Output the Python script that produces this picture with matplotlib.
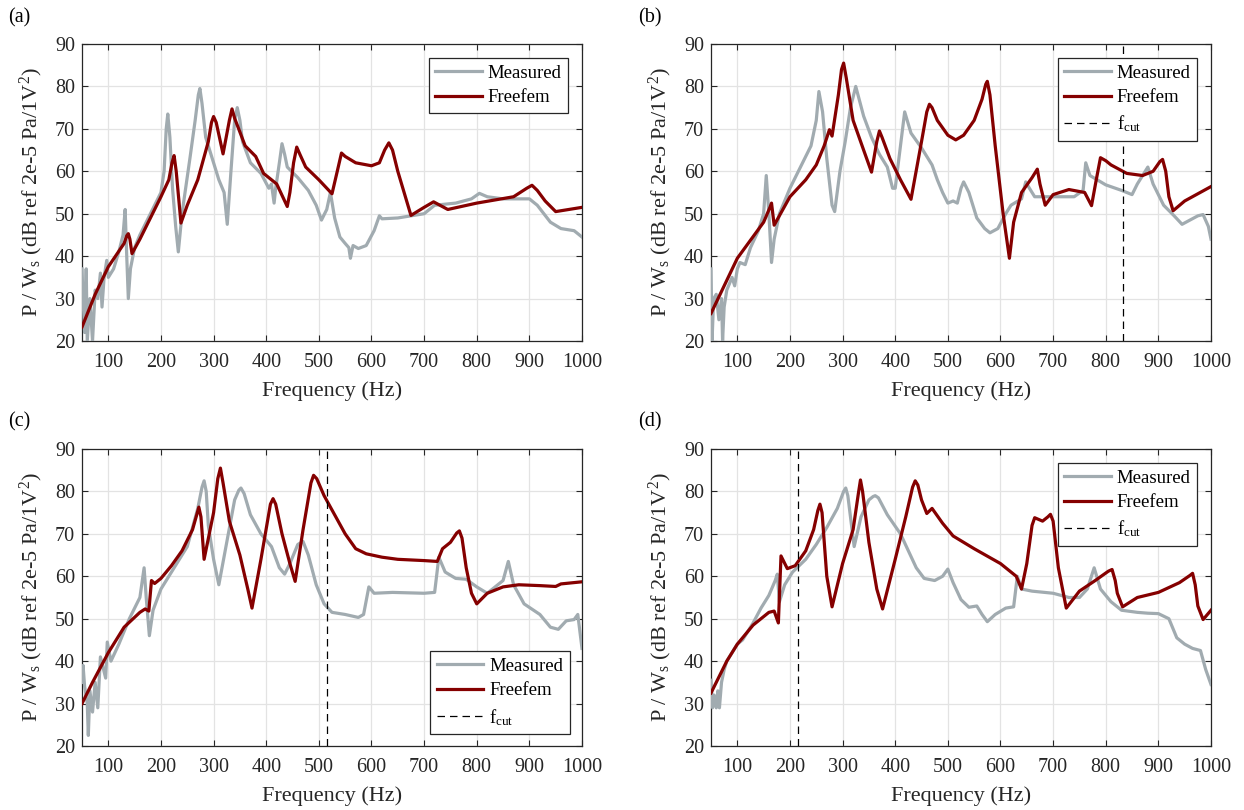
import matplotlib
matplotlib.use("Agg")
import matplotlib.pyplot as plt

plt.rcParams['font.family'] = ['Liberation Serif', 'DejaVu Serif']
plt.rcParams['mathtext.fontset'] = 'custom'
plt.rcParams['mathtext.rm'] = 'Liberation Serif'
plt.rcParams['mathtext.it'] = 'Liberation Serif:italic'

GRAY = '#a1abb0'
RED = '#850000'
INK = '#262626'

# ---- panel (a) ----
a_meas_f = [50, 52, 55, 58, 60, 65, 70, 75, 80, 85, 88, 92, 97, 100, 110, 120, 128, 132, 135, 138, 142,
            150, 160, 180, 200, 206, 210, 213, 217, 222, 228, 233, 240, 255, 265, 271, 274, 278, 285,
            300, 310, 320, 326, 333, 340, 345, 350, 355, 370, 390, 405, 410, 415, 418, 425, 430, 435,
            440, 460, 480, 495, 505, 515, 522, 530, 540, 550, 557, 560, 565, 575, 590, 605, 615, 620,
            650, 700, 720, 760, 790, 805, 820, 850, 880, 900, 915, 940, 960, 985, 1000]
a_meas_db = [37, 30, 22, 37, 20, 30, 20, 32, 30, 36, 28, 35, 39, 35, 37, 41, 45, 51, 40, 30, 37,
             42, 45, 50, 55, 60, 70, 73.5, 68, 56, 47, 41, 50, 63, 72, 78, 79.5, 76, 68,
             62, 58, 55, 47.5, 60, 72, 75, 72, 67, 62, 59.5, 56, 57, 52.5, 56, 62, 66.5, 64,
             61, 58.5, 55.5, 52, 48.5, 51, 55, 49, 44.5, 43, 42, 39.5, 42.5, 41.8, 42.5, 46, 49.5, 48.8,
             49, 50, 52, 52.5, 53.5, 54.8, 54, 53.5, 53.5, 53.5, 52, 48, 46.5, 46, 44.5]
a_fem_f = [50, 75, 100, 130, 135, 138, 141, 145, 160, 200, 215, 221, 225, 229, 238, 250, 270, 290, 296,
           300, 305, 318, 330, 335, 340, 360, 380, 395, 420, 440, 445, 452, 458, 464, 475, 500, 525,
           535, 543, 550, 570, 600, 615, 625, 633, 640, 650, 675, 700, 718, 745, 800, 870, 895, 905,
           915, 930, 950, 1000]
a_fem_db = [23.3, 31, 37.5, 43, 44.8, 45.3, 44, 40.6, 44, 54, 58, 62, 63.7, 60, 47.8, 52, 58, 67, 71.5,
            72.9, 71.5, 64.1, 72, 74.7, 72.5, 66, 63.5, 59.5, 57, 51.7, 55, 62, 65.7, 64, 61, 58, 54.7,
            60, 64.3, 63.5, 62, 61.3, 62, 65, 66.7, 65, 60, 49.6, 51.5, 52.8, 51, 52.5, 54, 56, 56.7,
            55.5, 53, 50.5, 51.5]

# ---- panel (b) ----
b_meas_f = [50, 52, 55, 60, 65, 70, 72, 75, 80, 90, 95, 100, 105, 115, 125, 140, 150, 155, 160, 165,
            170, 180, 200, 220, 240, 250, 255, 262, 270, 280, 285, 295, 305, 315, 325, 340, 355, 370,
            385, 395, 400, 410, 418, 430, 450, 470, 480, 490, 500, 510, 518, 525, 530, 540, 555, 570,
            580, 595, 610, 620, 640, 648, 655, 665, 700, 740, 757, 762, 770, 800, 830, 850, 860, 875,
            880, 890, 910, 930, 945, 960, 975, 985, 995, 1000]
b_meas_db = [37, 20, 30, 31, 25, 30, 20, 28, 32, 35, 33, 37, 38.5, 38, 42, 46, 50, 59, 50, 38.5,
             44, 50, 56, 61, 66, 72, 78.8, 74, 63, 52, 50.5, 60, 67, 75, 80, 73, 68, 64,
             61, 56, 56, 66, 74, 69, 65.5, 61.5, 58, 55, 52.5, 53, 52.5, 56, 57.5, 55, 49, 46.5,
             45.5, 46.5, 50, 52, 53.5, 57.5, 56, 54, 54, 54, 55.5, 62, 59, 56.8, 55.5, 54.5, 57, 60,
             61, 57, 52, 49.5, 47.5, 48.5, 49.5, 49.8, 47, 44]
b_fem_f = [50, 100, 150, 162, 165, 170, 200, 230, 250, 265, 275, 280, 292, 298, 302, 307, 320, 340, 355,
           365, 370, 375, 390, 410, 430, 450, 460, 465, 470, 480, 500, 515, 530, 550, 565, 572, 575,
           580, 590, 605, 617, 625, 640, 660, 670, 675, 685, 700, 730, 760, 773, 782, 790, 800, 810,
           840, 870, 890, 903, 908, 914, 920, 928, 950, 1000]
b_fem_db = [26.5, 39.5, 48, 51.5, 52.5, 47.3, 54, 58, 61.5, 66, 69.8, 68.3, 78, 84, 85.5, 82, 72, 65, 59.8,
            67, 69.5, 68, 63, 58, 53.4, 67, 74, 75.8, 75, 72, 68.5, 67.4, 68.5, 72, 77, 80.5, 81.2,
            78, 66, 50, 39.5, 48, 55, 58.5, 60.5, 57, 52, 54.5, 55.7, 55, 51.9, 58, 63.2, 62.5, 61.5,
            59.5, 59, 60, 62.3, 62.8, 60, 54, 50.7, 53, 56.4]
b_fcut = 832

# ---- panel (c) ----
c_meas_f = [50, 52, 55, 60, 62, 65, 70, 75, 80, 85, 95, 98, 105, 120, 140, 160, 168, 172, 178, 185,
            200, 220, 250, 270, 278, 282, 286, 290, 300, 310, 325, 340, 348, 352, 358, 370, 390, 410,
            425, 435, 445, 460, 470, 480, 495, 510, 525, 550, 575, 585, 595, 605, 640, 700, 720, 728,
            740, 760, 780, 800, 820, 835, 850, 860, 870, 890, 920, 940, 955, 970, 985, 992, 1000]
c_meas_db = [35, 39, 34, 30, 22.5, 33, 28, 35, 29, 41, 36, 44.5, 40, 44, 50, 55, 62, 55, 46, 52,
             57, 61, 67, 76, 81, 82.5, 80, 72, 64, 58, 68, 78, 80.3, 80.8, 79.5, 74.5, 70, 67,
             62, 60.5, 63, 67.5, 68.2, 65, 58, 53.5, 51.5, 51, 50.3, 51, 57.5, 56, 56.2, 56, 56.2, 64.5,
             61, 59.5, 59.3, 57.5, 56, 57.5, 59, 63.5, 58, 53.5, 51, 48, 47.5, 49.5, 49.8, 51, 43]
c_fem_f = [50, 70, 100, 130, 160, 170, 177, 182, 188, 200, 220, 240, 260, 268, 272, 276, 282, 300, 308,
           313, 318, 330, 350, 365, 373, 390, 408, 413, 418, 430, 445, 455, 470, 485, 490, 496, 510,
           530, 550, 570, 590, 620, 650, 700, 725, 735, 750, 762, 767, 772, 780, 790, 800, 820, 850,
           880, 920, 950, 960, 1000]
c_fem_db = [30, 35, 42, 48, 51.5, 52.3, 51.8, 59, 58.3, 59.5, 62.5, 66, 71, 74.5, 76.3, 74, 64, 75, 83,
            85.5, 82, 73, 65, 57, 52.5, 64, 77, 78.3, 77, 70, 63, 58.8, 71, 82, 83.8, 83, 79,
            74.5, 70, 66.5, 65.3, 64.5, 64, 63.7, 63.5, 66.5, 68, 70.2, 70.7, 69, 62, 56, 53.5, 56, 57.5,
            58, 57.8, 57.6, 58.2, 58.7]
c_fcut = 515

# ---- panel (d) ----
d_meas_f = [50, 53, 56, 60, 63, 66, 70, 75, 80, 90, 100, 110, 130, 145, 160, 172, 176, 180, 190, 205,
            230, 250, 270, 290, 302, 306, 310, 315, 322, 335, 350, 358, 362, 368, 385, 410, 425, 440,
            455, 475, 490, 500, 510, 525, 540, 555, 565, 575, 590, 610, 625, 632, 640, 660, 700, 730,
            750, 765, 778, 790, 810, 830, 860, 880, 900, 920, 935, 950, 965, 980, 990, 1000]
d_meas_db = [35.5, 29, 32, 29, 33, 29, 35, 38, 40, 42, 44, 45, 49, 52.5, 55.5, 59, 60.5, 54, 58, 61,
             64, 67.5, 71.5, 76, 80, 80.8, 79, 74, 67, 74, 78, 78.8, 79, 78.5, 74.5, 70, 66, 62,
             59.5, 59, 60, 61.7, 58.5, 54.5, 52.7, 53, 51, 49.3, 51, 52.5, 52.8, 60, 57, 56.5, 56, 55,
             55, 57, 62, 57, 54, 52, 51.5, 51.3, 51.2, 50, 45.5, 44, 43, 42.5, 38, 34.5]
d_fem_f = [50, 80, 100, 130, 160, 170, 178, 183, 195, 210, 230, 245, 253, 257, 261, 270, 280, 300, 320,
           330, 334, 338, 350, 365, 376, 400, 420, 433, 438, 443, 450, 460, 470, 490, 510, 550, 600,
           630, 640, 650, 660, 665, 680, 690, 695, 700, 710, 725, 750, 780, 805, 812, 818, 822, 832,
           860, 900, 940, 960, 965, 970, 975, 985, 1000]
d_fem_db = [32.5, 40, 44, 48.5, 51.5, 51.8, 49, 64.8, 61.8, 62.5, 66, 71, 75.5, 77, 75, 60, 52.8, 63, 71,
            79.5, 82.7, 80, 68, 57, 52.3, 64, 74, 81, 82.5, 81.5, 78, 74.8, 76, 72.5, 69.5, 66.5, 63,
            60, 57, 63, 72, 73.8, 73, 74, 74.6, 73, 62, 52.5, 56.5, 59, 61.2, 61.6, 59, 56, 52.8,
            55, 56.2, 58.5, 60.2, 60.7, 58, 53, 49.8, 52]
d_fcut = 215

panels = [
    ('(a)', a_meas_f, a_meas_db, a_fem_f, a_fem_db, None, 'upper right'),
    ('(b)', b_meas_f, b_meas_db, b_fem_f, b_fem_db, b_fcut, 'upper right'),
    ('(c)', c_meas_f, c_meas_db, c_fem_f, c_fem_db, c_fcut, 'lower right'),
    ('(d)', d_meas_f, d_meas_db, d_fem_f, d_fem_db, d_fcut, 'upper right'),
]

W, H = 1244, 810
boxes = [(82, 44), (711, 44), (82, 449), (711, 449)]
tags = [(8, 18), (638, 18), (8, 422), (638, 422)]

fig = plt.figure(figsize=(W / 100, H / 100), dpi=100)

for (tag, mf, mdb, ff, fdb, fcut, loc), (px, py), (tx, ty) in zip(panels, boxes, tags):
    ax = fig.add_axes([px / W, 1 - (py + 297) / H, 500 / W, 297 / H])
    ax.plot(mf, mdb, color=GRAY, lw=2.3, label='Measured', zorder=3, solid_joinstyle='round')
    ax.plot(ff, fdb, color=RED, lw=2.3, label='Freefem', zorder=4, solid_joinstyle='round')
    if fcut is not None:
        ax.axvline(fcut, color='black', lw=0.9, ls=(0, (6, 4)), label=r'f$_\mathrm{cut}$', zorder=5)
    ax.set_xlim(50, 1000)
    ax.set_ylim(20, 90)
    ax.set_xticks(range(100, 1001, 100))
    ax.set_yticks(range(20, 91, 10))
    ax.grid(True, color='#e3e3e3', lw=0.9, zorder=0)
    ax.set_axisbelow(True)
    ax.tick_params(direction='in', top=True, right=True, length=4, width=0.8,
                   labelsize=14.5, colors=INK, pad=5)
    ax.tick_params(axis='x', pad=9)
    for s in ax.spines.values():
        s.set_color(INK)
        s.set_linewidth(0.9)
    ax.set_xlabel('Frequency (Hz)', fontsize=16, color=INK, labelpad=6)
    ax.set_ylabel(r'P / W$_\mathrm{s}$ (dB ref 2e-5 Pa/1V$^2$)', fontsize=16, color=INK, labelpad=7)
    anchor = (0.972, 0.953) if loc == 'upper right' else (0.975, 0.04)
    leg = ax.legend(loc=loc, bbox_to_anchor=anchor, fontsize=13.5, fancybox=False,
                    frameon=True, edgecolor=INK, framealpha=1, borderaxespad=0,
                    handlelength=2.5, handletextpad=0.3, labelspacing=0.4, borderpad=0.35)
    leg.get_frame().set_linewidth(0.9)
    leg.set_zorder(10)
    fig.text(tx / W, 1 - ty / H, tag, fontsize=14.5, va='center', ha='left')

fig.savefig('out.png', dpi=100)
